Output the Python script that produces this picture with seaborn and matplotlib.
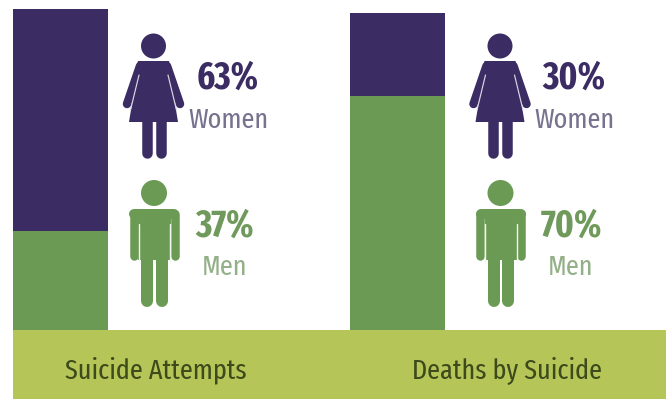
import matplotlib
matplotlib.use("Agg")
import matplotlib.pyplot as plt
from matplotlib.patches import Circle, Polygon, Rectangle
import pandas as pd
import seaborn as sns

# Data
panels = ["Suicide Attempts", "Deaths by Suicide"]
women_labels = ["63%", "30%"]
men_labels = ["37%", "70%"]
# Segment heights as drawn in the picture (share of the tall bar)
women_drawn = [69.2, 25.9]
men_drawn = [30.8, 72.9]

PURPLE, GREEN, BAND = "#3b2c63", "#6b9a55", "#b6c557"
W, H = 666, 399
FONT = ["Fira Sans Extra Condensed", "DejaVu Sans"]

sns.set_theme(style="white")
fig = plt.figure(figsize=(W / 100, H / 100), dpi=100, facecolor="white")
ax = fig.add_axes([0, 0, 1, 1])

df = pd.DataFrame({
    "panel": panels,
    "total": [w + m for w, m in zip(women_drawn, men_drawn)],
    "men": men_drawn,
})
sns.barplot(data=df, x="panel", y="total", color=PURPLE, width=0.282,
            saturation=1, ax=ax, zorder=2, linewidth=0)
sns.barplot(data=df, x="panel", y="men", color=GREEN, width=0.282,
            saturation=1, ax=ax, zorder=3, linewidth=0)
ax.set_xlim(-60.5 / 337, (W - 60.5) / 337)
ax.set_ylim(-(H - 330) / 3.21, 100 + 9 / 3.21)
ax.axis("off")

# Pixel overlay for band, pictograms and text
ov = fig.add_axes([0, 0, 1, 1], facecolor="none")
ov.set_xlim(0, W)
ov.set_ylim(H, 0)
ov.axis("off")
ov.add_patch(Rectangle((13, 330), W - 13, 69, fc=BAND, ec="none"))


def limb(x0, y0, x1, y1, w, c):
    ov.plot([x0, x1], [y0, y1], color=c, lw=w * 0.72,
            solid_capstyle="round", solid_joinstyle="round")


def woman(dx):
    c = PURPLE
    ov.add_patch(Circle((153.5 + dx, 46), 12.5, fc=c, ec="none"))
    ov.add_patch(Polygon([(139 + dx, 61), (168 + dx, 61), (178 + dx, 122),
                          (129 + dx, 122)], fc=c, ec="none"))
    limb(140 + dx, 66, 127 + dx, 104, 8.5, c)
    limb(167 + dx, 66, 180 + dx, 104, 8.5, c)
    ov.add_patch(Polygon([(138 + dx, 61), (169 + dx, 61), (172 + dx, 74),
                          (135 + dx, 74)], fc=c, ec="none"))
    limb(146.5 + dx, 120, 146.5 + dx, 152.5, 10.5, c)
    limb(160.5 + dx, 120, 160.5 + dx, 152.5, 10.5, c)
    limb(139 + dx, 75, 130.5 + dx, 110, 1.2, "#d9d6e4")
    limb(168 + dx, 75, 176.5 + dx, 110, 1.2, "#d9d6e4")


def man(dx):
    c = GREEN
    ov.add_patch(Circle((154 + dx, 193), 13, fc=c, ec="none"))
    limb(134 + dx, 214, 174 + dx, 214, 10, c)
    ov.add_patch(Rectangle((138 + dx, 210), 33, 50, fc=c, ec="none"))
    limb(133.5 + dx, 214, 133.5 + dx, 256, 8.5, c)
    limb(174.5 + dx, 214, 174.5 + dx, 256, 8.5, c)
    limb(147 + dx, 255, 147 + dx, 301, 12, c)
    limb(161.5 + dx, 255, 161.5 + dx, 301, 12, c)
    limb(138.7 + dx, 224, 138.7 + dx, 262, 1.4, "#f4f7f2")
    limb(170.3 + dx, 224, 170.3 + dx, 262, 1.4, "#f4f7f2")


woman(0); man(0); woman(346.5); man(346.5)

women_pct_x = [228, 574]
men_pct_x = [225, 571]
band_x = [156, 507]
for i, name in enumerate(panels):
    ov.text(women_pct_x[i], 74, women_labels[i], color=PURPLE, fontsize=27,
            fontweight="bold", family=FONT, ha="center", va="center_baseline")
    ov.text(women_pct_x[i], 117, "Women", color="#77738f", fontsize=20.5,
            family=FONT, ha="center", va="center_baseline")
    ov.text(men_pct_x[i], 222, men_labels[i], color="#709a5c", fontsize=27,
            fontweight="bold", family=FONT, ha="center", va="center_baseline")
    ov.text(men_pct_x[i], 264, "Men", color="#93b088", fontsize=20.5,
            family=FONT, ha="center", va="center_baseline")
    ov.text(band_x[i], 367, name, color="#3c4a1c", fontsize=20.5,
            family=FONT, ha="center", va="center_baseline")

fig.savefig("out.png", dpi=100, facecolor="white")
